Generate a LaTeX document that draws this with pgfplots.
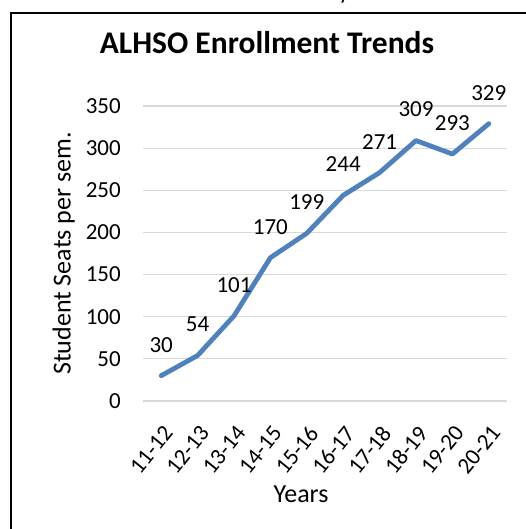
\documentclass[border=0pt]{standalone}
\usepackage{pgfplots}
\pgfplotsset{compat=1.18}
\usepackage{fontspec}
\setmainfont{Carlito}
\definecolor{lineblue}{RGB}{79,129,189}
\definecolor{gridgray}{RGB}{217,217,217}
\newcommand{\tickfont}{\fontsize{23}{27}\selectfont}
\newcommand{\labfont}{\fontsize{26}{30}\selectfont}
\newcommand{\titfont}{\fontsize{31.5}{36}\selectfont\bfseries}
\begin{document}
\begin{tikzpicture}[x=1pt,y=1pt]
\path[use as bounding box] (0,0) rectangle (526,529);
\draw[black, line width=2pt] (11,-5) -- (11,515.5) -- (540,515.5);
\node[anchor=base, font=\tickfont] at (344,529) {y};
\node[anchor=base, font=\titfont] at (267,475.5) {ALHSO Enrollment Trends};
\node[anchor=base, rotate=90, font=\labfont] at (70.7,275.5) {Student Seats per sem.};
\node[anchor=base, font=\labfont] at (301,26) {Years};
\begin{axis}[
  at={(143pt,128pt)}, anchor=south west,
  scale only axis, width=364pt, height=295pt,
  xmin=-0.5, xmax=9.5, ymin=0, ymax=350,
  xtick={0,...,9},
  xticklabels={11-12,12-13,13-14,14-15,15-16,16-17,17-18,18-19,19-20,20-21},
  ytick={0,50,...,350},
  /pgf/number format/assume math mode=true,
  axis line style={draw=none},
  major tick length=0pt,
  ymajorgrids,
  major grid style={draw=gridgray, line width=1.2pt},
  tick label style={font=\tickfont},
  yticklabel style={inner sep=0pt, anchor=east, xshift=-22pt},
  xticklabel style={inner sep=0pt, xshift=7pt, yshift=-28pt, rotate=51, anchor=east},
  clip=false,
]
\addplot[color=lineblue, line width=4.8pt, line join=round, line cap=round,
  nodes near coords,
  every node near coord/.append style={anchor=center, yshift=31pt, inner sep=0pt, font=\tickfont, text=black}]
  coordinates {(0,30) (1,54) (2,101) (3,170) (4,199) (5,244) (6,271) (7,309) (8,293) (9,329)};
\end{axis}
\end{tikzpicture}
\end{document}
